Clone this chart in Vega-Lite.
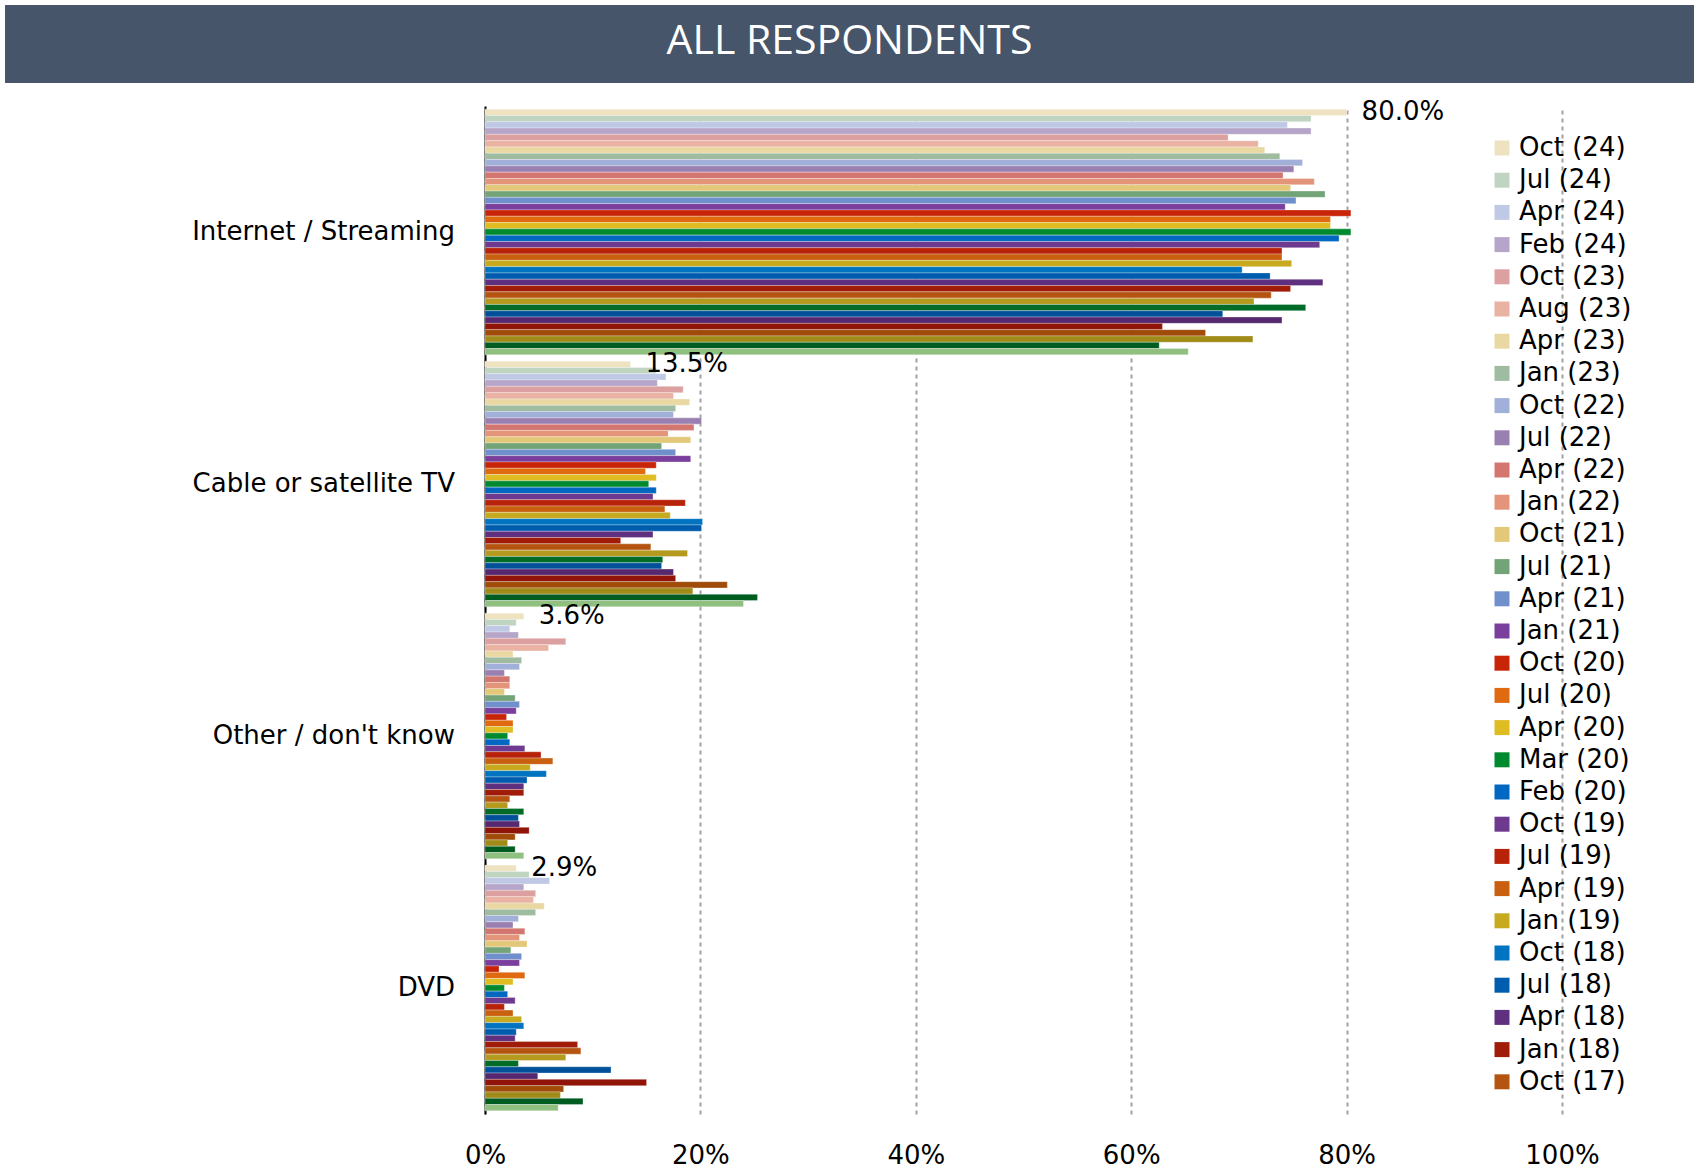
{
  "$schema": "https://vega.github.io/schema/vega-lite/v6.json",
  "padding": {"left": 5, "top": 5, "right": 0, "bottom": 0},
  "spacing": 16,
  "config": {"view": {"stroke": null}, "font": "DejaVu Sans"},
  "datasets": {
    "banner": [{"t": "ALL RESPONDENTS"}],
    "cats": [{"c":"Internet / Streaming"},{"c":"Cable or satellite TV"},{"c":"Other / don't know"},{"c":"DVD"}],
    "main": [
      {"c":"Internet / Streaming","p":"Oct (24)","v":0.800},{"c":"Internet / Streaming","p":"Jul (24)","v":0.767},{"c":"Internet / Streaming","p":"Apr (24)","v":0.745},{"c":"Internet / Streaming","p":"Feb (24)","v":0.767},{"c":"Internet / Streaming","p":"Oct (23)","v":0.690},{"c":"Internet / Streaming","p":"Aug (23)","v":0.718},{"c":"Internet / Streaming","p":"Apr (23)","v":0.724},{"c":"Internet / Streaming","p":"Jan (23)","v":0.738},{"c":"Internet / Streaming","p":"Oct (22)","v":0.759},{"c":"Internet / Streaming","p":"Jul (22)","v":0.751},{"c":"Internet / Streaming","p":"Apr (22)","v":0.741},{"c":"Internet / Streaming","p":"Jan (22)","v":0.770},{"c":"Internet / Streaming","p":"Oct (21)","v":0.748},{"c":"Internet / Streaming","p":"Jul (21)","v":0.780},{"c":"Internet / Streaming","p":"Apr (21)","v":0.753},{"c":"Internet / Streaming","p":"Jan (21)","v":0.743},{"c":"Internet / Streaming","p":"Oct (20)","v":0.804},{"c":"Internet / Streaming","p":"Jul (20)","v":0.785},{"c":"Internet / Streaming","p":"Apr (20)","v":0.785},{"c":"Internet / Streaming","p":"Mar (20)","v":0.804},{"c":"Internet / Streaming","p":"Feb (20)","v":0.793},{"c":"Internet / Streaming","p":"Oct (19)","v":0.775},{"c":"Internet / Streaming","p":"Jul (19)","v":0.740},{"c":"Internet / Streaming","p":"Apr (19)","v":0.740},{"c":"Internet / Streaming","p":"Jan (19)","v":0.749},{"c":"Internet / Streaming","p":"Oct (18)","v":0.703},{"c":"Internet / Streaming","p":"Jul (18)","v":0.729},{"c":"Internet / Streaming","p":"Apr (18)","v":0.778},{"c":"Internet / Streaming","p":"Jan (18)","v":0.748},{"c":"Internet / Streaming","p":"Oct (17)","v":0.730},{"c":"Internet / Streaming","p":"Jul (17)","v":0.714},{"c":"Internet / Streaming","p":"Apr (17)","v":0.762},{"c":"Internet / Streaming","p":"Jan (17)","v":0.685},{"c":"Internet / Streaming","p":"Oct (16)","v":0.740},{"c":"Internet / Streaming","p":"Jul (16)","v":0.629},{"c":"Internet / Streaming","p":"Apr (16)","v":0.669},{"c":"Internet / Streaming","p":"Jan (16)","v":0.713},{"c":"Internet / Streaming","p":"Oct (15)","v":0.626},{"c":"Internet / Streaming","p":"Jul (15)","v":0.653},
      {"c":"Cable or satellite TV","p":"Oct (24)","v":0.135},{"c":"Cable or satellite TV","p":"Jul (24)","v":0.159},{"c":"Cable or satellite TV","p":"Apr (24)","v":0.168},{"c":"Cable or satellite TV","p":"Feb (24)","v":0.160},{"c":"Cable or satellite TV","p":"Oct (23)","v":0.184},{"c":"Cable or satellite TV","p":"Aug (23)","v":0.175},{"c":"Cable or satellite TV","p":"Apr (23)","v":0.190},{"c":"Cable or satellite TV","p":"Jan (23)","v":0.177},{"c":"Cable or satellite TV","p":"Oct (22)","v":0.175},{"c":"Cable or satellite TV","p":"Jul (22)","v":0.201},{"c":"Cable or satellite TV","p":"Apr (22)","v":0.194},{"c":"Cable or satellite TV","p":"Jan (22)","v":0.170},{"c":"Cable or satellite TV","p":"Oct (21)","v":0.191},{"c":"Cable or satellite TV","p":"Jul (21)","v":0.164},{"c":"Cable or satellite TV","p":"Apr (21)","v":0.177},{"c":"Cable or satellite TV","p":"Jan (21)","v":0.191},{"c":"Cable or satellite TV","p":"Oct (20)","v":0.159},{"c":"Cable or satellite TV","p":"Jul (20)","v":0.149},{"c":"Cable or satellite TV","p":"Apr (20)","v":0.159},{"c":"Cable or satellite TV","p":"Mar (20)","v":0.152},{"c":"Cable or satellite TV","p":"Feb (20)","v":0.159},{"c":"Cable or satellite TV","p":"Oct (19)","v":0.156},{"c":"Cable or satellite TV","p":"Jul (19)","v":0.186},{"c":"Cable or satellite TV","p":"Apr (19)","v":0.167},{"c":"Cable or satellite TV","p":"Jan (19)","v":0.172},{"c":"Cable or satellite TV","p":"Oct (18)","v":0.202},{"c":"Cable or satellite TV","p":"Jul (18)","v":0.201},{"c":"Cable or satellite TV","p":"Apr (18)","v":0.156},{"c":"Cable or satellite TV","p":"Jan (18)","v":0.126},{"c":"Cable or satellite TV","p":"Oct (17)","v":0.154},{"c":"Cable or satellite TV","p":"Jul (17)","v":0.188},{"c":"Cable or satellite TV","p":"Apr (17)","v":0.165},{"c":"Cable or satellite TV","p":"Jan (17)","v":0.164},{"c":"Cable or satellite TV","p":"Oct (16)","v":0.175},{"c":"Cable or satellite TV","p":"Jul (16)","v":0.177},{"c":"Cable or satellite TV","p":"Apr (16)","v":0.225},{"c":"Cable or satellite TV","p":"Jan (16)","v":0.193},{"c":"Cable or satellite TV","p":"Oct (15)","v":0.253},{"c":"Cable or satellite TV","p":"Jul (15)","v":0.240},
      {"c":"Other / don't know","p":"Oct (24)","v":0.036},{"c":"Other / don't know","p":"Jul (24)","v":0.029},{"c":"Other / don't know","p":"Apr (24)","v":0.023},{"c":"Other / don't know","p":"Feb (24)","v":0.031},{"c":"Other / don't know","p":"Oct (23)","v":0.075},{"c":"Other / don't know","p":"Aug (23)","v":0.059},{"c":"Other / don't know","p":"Apr (23)","v":0.026},{"c":"Other / don't know","p":"Jan (23)","v":0.034},{"c":"Other / don't know","p":"Oct (22)","v":0.032},{"c":"Other / don't know","p":"Jul (22)","v":0.018},{"c":"Other / don't know","p":"Apr (22)","v":0.023},{"c":"Other / don't know","p":"Jan (22)","v":0.023},{"c":"Other / don't know","p":"Oct (21)","v":0.018},{"c":"Other / don't know","p":"Jul (21)","v":0.028},{"c":"Other / don't know","p":"Apr (21)","v":0.032},{"c":"Other / don't know","p":"Jan (21)","v":0.029},{"c":"Other / don't know","p":"Oct (20)","v":0.020},{"c":"Other / don't know","p":"Jul (20)","v":0.026},{"c":"Other / don't know","p":"Apr (20)","v":0.026},{"c":"Other / don't know","p":"Mar (20)","v":0.021},{"c":"Other / don't know","p":"Feb (20)","v":0.023},{"c":"Other / don't know","p":"Oct (19)","v":0.037},{"c":"Other / don't know","p":"Jul (19)","v":0.052},{"c":"Other / don't know","p":"Apr (19)","v":0.063},{"c":"Other / don't know","p":"Jan (19)","v":0.042},{"c":"Other / don't know","p":"Oct (18)","v":0.057},{"c":"Other / don't know","p":"Jul (18)","v":0.039},{"c":"Other / don't know","p":"Apr (18)","v":0.036},{"c":"Other / don't know","p":"Jan (18)","v":0.036},{"c":"Other / don't know","p":"Oct (17)","v":0.023},{"c":"Other / don't know","p":"Jul (17)","v":0.021},{"c":"Other / don't know","p":"Apr (17)","v":0.036},{"c":"Other / don't know","p":"Jan (17)","v":0.031},{"c":"Other / don't know","p":"Oct (16)","v":0.032},{"c":"Other / don't know","p":"Jul (16)","v":0.041},{"c":"Other / don't know","p":"Apr (16)","v":0.028},{"c":"Other / don't know","p":"Jan (16)","v":0.021},{"c":"Other / don't know","p":"Oct (15)","v":0.028},{"c":"Other / don't know","p":"Jul (15)","v":0.036},
      {"c":"DVD","p":"Oct (24)","v":0.029},{"c":"DVD","p":"Jul (24)","v":0.041},{"c":"DVD","p":"Apr (24)","v":0.060},{"c":"DVD","p":"Feb (24)","v":0.036},{"c":"DVD","p":"Oct (23)","v":0.047},{"c":"DVD","p":"Aug (23)","v":0.045},{"c":"DVD","p":"Apr (23)","v":0.055},{"c":"DVD","p":"Jan (23)","v":0.047},{"c":"DVD","p":"Oct (22)","v":0.031},{"c":"DVD","p":"Jul (22)","v":0.026},{"c":"DVD","p":"Apr (22)","v":0.037},{"c":"DVD","p":"Jan (22)","v":0.032},{"c":"DVD","p":"Oct (21)","v":0.039},{"c":"DVD","p":"Jul (21)","v":0.024},{"c":"DVD","p":"Apr (21)","v":0.034},{"c":"DVD","p":"Jan (21)","v":0.032},{"c":"DVD","p":"Oct (20)","v":0.013},{"c":"DVD","p":"Jul (20)","v":0.037},{"c":"DVD","p":"Apr (20)","v":0.026},{"c":"DVD","p":"Mar (20)","v":0.018},{"c":"DVD","p":"Feb (20)","v":0.021},{"c":"DVD","p":"Oct (19)","v":0.028},{"c":"DVD","p":"Jul (19)","v":0.018},{"c":"DVD","p":"Apr (19)","v":0.026},{"c":"DVD","p":"Jan (19)","v":0.034},{"c":"DVD","p":"Oct (18)","v":0.036},{"c":"DVD","p":"Jul (18)","v":0.029},{"c":"DVD","p":"Apr (18)","v":0.028},{"c":"DVD","p":"Jan (18)","v":0.086},{"c":"DVD","p":"Oct (17)","v":0.089},{"c":"DVD","p":"Jul (17)","v":0.075},{"c":"DVD","p":"Apr (17)","v":0.031},{"c":"DVD","p":"Jan (17)","v":0.117},{"c":"DVD","p":"Oct (16)","v":0.049},{"c":"DVD","p":"Jul (16)","v":0.150},{"c":"DVD","p":"Apr (16)","v":0.073},{"c":"DVD","p":"Jan (16)","v":0.070},{"c":"DVD","p":"Oct (15)","v":0.091},{"c":"DVD","p":"Jul (15)","v":0.068}
    ]
  },
  "vconcat": [
    {
      "width": 1689,
      "height": 78,
      "view": {"fill": "#465569", "stroke": null},
      "data": {"name": "banner"},
      "mark": {"type": "text", "color": "#ffffff", "font": "Open Sans", "fontSize": 41, "dy": -2},
      "encoding": {"text": {"field": "t"}}
    },
    {
      "spacing": 9,
      "hconcat": [
        {
          "width": 450,
          "height": 1008,
          "data": {"name": "cats"},
          "mark": {"type": "text", "align": "right", "baseline": "middle", "font": "DejaVu Sans", "fontSize": 26, "color": "#000000"},
          "encoding": {
            "x": {"datum": 1, "type": "quantitative", "scale": {"domain": [0, 1], "nice": false}, "axis": null},
            "y": {"field": "c", "type": "nominal",
                  "sort": ["Internet / Streaming", "Cable or satellite TV", "Other / don't know", "DVD"],
                  "scale": {"paddingInner": 0.025, "paddingOuter": 0.0125}, "axis": null},
            "text": {"field": "c"}
          }
        },
        {
          "width": 1077,
          "height": 1008,
          "data": {"name": "main"},
          "encoding": {
            "x": {"field": "v", "type": "quantitative",
                  "scale": {"domain": [0, 1], "nice": false},
                  "axis": {"title": null, "format": ".0%", "values": [0, 0.2, 0.4, 0.6, 0.8, 1.0],
                           "domain": false, "ticks": false, "labelPadding": 28, "labelFlush": false,
                           "labelFont": "DejaVu Sans", "labelFontSize": 26, "labelColor": "#000000",
                           "grid": true, "gridColor": "#a0a0a0", "gridWidth": 2, "gridDash": [4, 4]}},
            "y": {"field": "c", "type": "nominal",
                  "sort": ["Internet / Streaming", "Cable or satellite TV", "Other / don't know", "DVD"],
                  "scale": {"paddingInner": 0.025, "paddingOuter": 0.0125},
                  "axis": {"title": null, "ticks": false, "labels": false, "domainColor": "#000000", "domainWidth": 2,
                           "minExtent": 0, "maxExtent": 0}},
            "yOffset": {"field": "p", "type": "nominal",
                        "sort": ["Oct (24)","Jul (24)","Apr (24)","Feb (24)","Oct (23)","Aug (23)","Apr (23)","Jan (23)","Oct (22)","Jul (22)","Apr (22)","Jan (22)","Oct (21)","Jul (21)","Apr (21)","Jan (21)","Oct (20)","Jul (20)","Apr (20)","Mar (20)","Feb (20)","Oct (19)","Jul (19)","Apr (19)","Jan (19)","Oct (18)","Jul (18)","Apr (18)","Jan (18)","Oct (17)","Jul (17)","Apr (17)","Jan (17)","Oct (16)","Jul (16)","Apr (16)","Jan (16)","Oct (15)","Jul (15)"],
                        "scale": {"paddingInner": 0, "paddingOuter": 0}}
          },
          "layer": [
            {
              "mark": {"type": "bar", "stroke": "#ffffff", "strokeWidth": 0.5, "strokeOpacity": 0.6},
              "encoding": {
                "color": {"field": "p", "type": "nominal",
                          "scale": {
                            "domain": ["Oct (24)","Jul (24)","Apr (24)","Feb (24)","Oct (23)","Aug (23)","Apr (23)","Jan (23)","Oct (22)","Jul (22)","Apr (22)","Jan (22)","Oct (21)","Jul (21)","Apr (21)","Jan (21)","Oct (20)","Jul (20)","Apr (20)","Mar (20)","Feb (20)","Oct (19)","Jul (19)","Apr (19)","Jan (19)","Oct (18)","Jul (18)","Apr (18)","Jan (18)","Oct (17)","Jul (17)","Apr (17)","Jan (17)","Oct (16)","Jul (16)","Apr (16)","Jan (16)","Oct (15)","Jul (15)"],
                            "range": ["#EEE2C0","#C0D4C2","#BFC8E4","#B5A5C8","#DDA0A0","#EAB2A2","#EAD8A2","#A0BCA0","#A0B0D8","#9A80B0","#D47670","#E49478","#E2C878","#72A478","#7090CC","#7A3E9C","#C82408","#E06A10","#DEBC22","#008A30","#0068C0","#6E3A90","#B82208","#C86010","#C8AA20","#0074C0","#005CAE","#603080","#A01C08","#B45410","#B49A1E","#006C28","#00509A","#562870","#901408","#A04C08","#A08A18","#005C20","#90C080"]
                          },
                          "legend": {
                            "title": null, "orient": "none", "legendX": 1484, "legendY": 130, "padding": 0,
                            "values": ["Oct (24)","Jul (24)","Apr (24)","Feb (24)","Oct (23)","Aug (23)","Apr (23)","Jan (23)","Oct (22)","Jul (22)","Apr (22)","Jan (22)","Oct (21)","Jul (21)","Apr (21)","Jan (21)","Oct (20)","Jul (20)","Apr (20)","Mar (20)","Feb (20)","Oct (19)","Jul (19)","Apr (19)","Jan (19)","Oct (18)","Jul (18)","Apr (18)","Jan (18)","Oct (17)"],
                            "symbolType": "square", "symbolSize": 225, "symbolStrokeWidth": 0,
                            "labelFont": "DejaVu Sans", "labelFontSize": 26, "labelColor": "#000000",
                            "labelOffset": 4, "rowPadding": 6.2, "labelLimit": 300
                          }}
              }
            },
            {
              "transform": [{"filter": "datum.p == 'Oct (24)'"}],
              "mark": {"type": "text", "align": "left", "baseline": "middle", "dx": 15, "font": "DejaVu Sans", "fontSize": 26, "color": "#000000"},
              "encoding": {"text": {"field": "v", "type": "quantitative", "format": ".1%"}}
            }
          ]
        }
      ]
    }
  ]
}
